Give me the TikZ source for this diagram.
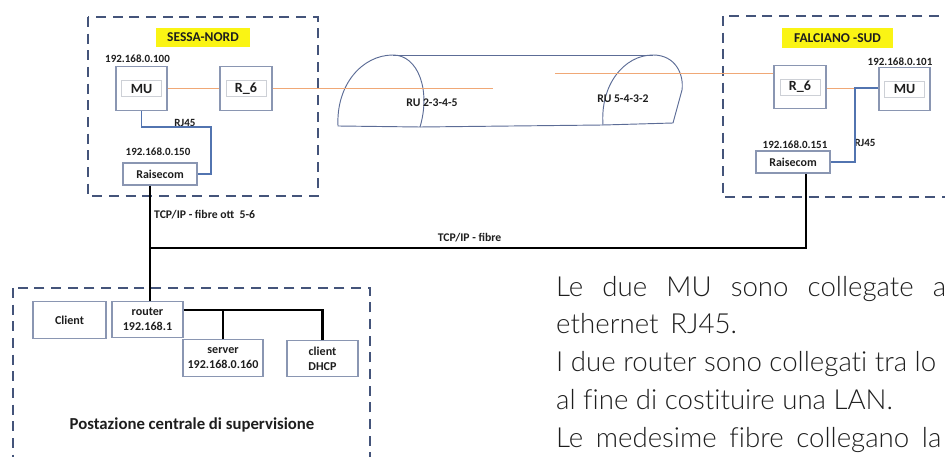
\documentclass[tikz,border=0pt]{standalone}
\usepackage{fontspec}
\setmainfont{Carlito}
\newfontfamily\parafont{Lato Light}[Ligatures={NoCommon}]
\usetikzlibrary{calc}
\definecolor{frameblue}{RGB}{68,84,122}
\definecolor{boxgray}{RGB}{138,150,178}
\definecolor{innergray}{RGB}{205,208,214}
\definecolor{fibreorange}{RGB}{240,168,118}
\definecolor{rjblue}{RGB}{82,116,176}
\definecolor{tubeblue}{RGB}{92,108,150}
\definecolor{tagyellow}{RGB}{250,244,20}
\definecolor{ink}{RGB}{30,30,30}
\tikzset{
  site/.style={draw=frameblue, line width=2pt, dash pattern=on 0.3cm off 0.2cm},
  unit/.style={draw=boxgray, line width=0.9pt, minimum width=1.53cm, minimum height=1.3cm, text=ink, font=\fontsize{12}{14}\selectfont\bfseries},
  inbox/.style={draw=innergray, line width=0.6pt},
  rsbox/.style={draw=boxgray, line width=0.9pt, minimum width=2.22cm, minimum height=0.66cm, inner sep=1pt, text=ink, font=\fontsize{10.2}{12}\selectfont\bfseries},
  pcbox/.style={draw=boxgray, line width=0.9pt, minimum height=1.1cm, align=center, inner sep=1pt, text=ink, font=\fontsize{10.3}{12.8}\selectfont\bfseries},
  tag/.style={fill=tagyellow, minimum height=0.58cm, inner sep=1pt, text=ink, font=\fontsize{11.5}{13}\selectfont\bfseries},
  ip/.style={inner sep=0pt, text=ink, font=\fontsize{9.4}{11}\selectfont\bfseries},
  lbl/.style={inner sep=0pt, text=ink, font=\fontsize{10}{12}\selectfont\bfseries},
  rf/.style={draw=fibreorange, line width=0.8pt},
  rj/.style={draw=rjblue, line width=1.6pt},
  fib/.style={draw=black, line width=2.3pt},
  tube/.style={draw=tubeblue, line width=0.8pt},
  para/.style={anchor=base west, inner sep=0pt, text=ink, font=\parafont\fontsize{23.6}{28}\selectfont}
}
\begin{document}
\begin{tikzpicture}[x=0.03cm, y=-0.03cm]
\useasboundingbox (0,0) rectangle (945,457);
\clip (0,0) rectangle (945,457);
\draw[site] (88,17) rectangle (318,196);
\draw[site] (723,16) rectangle (975,197);
\draw[site] (13,288) rectangle (370,480);
\node[tag, minimum width=2.82cm] (sessa) at (203,37.5) {SESSA-NORD};
\node[tag, minimum width=3.33cm] (falciano) at (837.5,38) {FALCIANO -SUD};
\node[unit] (mu1) at (141.5,88.5) {MU};
\node[unit, minimum width=1.56cm] (r1) at (246,88.5) {R\_6};
\node[rsbox] (rs1) at (160,174) {Raisecom};
\node[unit, minimum width=1.56cm] (r2) at (800,87) {R\_6};
\node[unit] (mu2) at (904.5,89) {MU};
\node[rsbox] (rs2) at (793,162) {Raisecom};
\foreach \n in {mu1,r1,r2,mu2}
  \draw[inbox] (\n.center) ++(-20,-8) rectangle ++(40,16);
\node[ip] (ipmu1) at (137.5,59) {192.168.0.100};
\node[ip] (iprs1) at (158,152) {192.168.0.150};
\node[ip] (iprs2) at (795,145) {192.168.0.151};
\node[ip] (ipmu2) at (900,62) {192.168.0.101};
\node[ip] (rj1) at (185,123) {RJ45};
\node[ip] (rj2) at (865,143) {RJ45};
\draw[tube] (338,126) .. controls (336,85) and (362,55) .. (393,55) .. controls (418,55) and (431,90) .. (420,127) -- cycle;
\draw[tube] (393,55) -- (653,55);
\draw[tube] (420,127) -- (603,125);
\draw[tube] (603,125) .. controls (600,85) and (624,55) .. (653,55) .. controls (676,55) and (684,75) .. (682,90) -- (673,123) -- cycle;
\node[lbl] (ru1) at (432,103) {RU 2-3-4-5};
\node[lbl] (ru2) at (623,99) {RU 5-4-3-2};
\coordinate (rfl) at (493,88.5);
\coordinate (rfr) at (555,73);
\coordinate (rjr) at (855,88);
\draw[rf] (mu1) -- (r1);
\draw[rf] (r1.east) -- (rfl);
\draw[rf] (rfr) -- (rfr -| r2.west);
\draw[rf] (r2.east |- rjr) -- (rjr);
\draw[rj] (mu1.south) |- (211,127) |- (rs1.east);
\draw[rj] (rjr -| mu2.west) -- (rjr) |- (rs2.east);
\node[pcbox, minimum width=2.19cm] (client) at (69.5,320) {Client};
\node[pcbox, minimum width=2.13cm] (router) at (147.5,319.5) {router\\192.168.1};
\node[pcbox, minimum width=2.4cm] (server) at (223,358) {server\\192.168.0.160};
\node[pcbox, minimum width=2.13cm] (dhcp) at (322.5,358.5) {client\\DHCP};
\coordinate (tcp) at (150,248);
\draw[fib] (rs1.south -| tcp) -- (router.north -| tcp);
\draw[fib] (tcp) -| ($(rs2.south)+(13,0)$);
\coordinate (lan) at ($(router.east)+(0,-9.5)$);
\draw[fib] (lan) -| (dhcp.north);
\draw[fib] (server.north) -- (server.north |- lan);
\node[lbl, anchor=west] (tcp1) at (154,215) {TCP/IP - fibre ott\ \ 5-6};
\node[lbl] (tcp2) at (469.5,238) {TCP/IP - fibre};
\node[inner sep=0pt, text=ink, font=\fontsize{14.3}{16}\selectfont\bfseries] (post) at (192,425) {Postazione centrale di supervisione};
\node[para] (p1) at (556,296.5) {\makebox[11.7cm][s]{Le due MU sono collegate a}};
\node[para] (p2) at (556,334) {ethernet\hspace{0.35cm}RJ45.};
\node[para] (p3) at (556,371.5) {I due router sono collegati tra lo};
\node[para] (p4) at (556,409) {al fine di costituire una LAN.};
\node[para] (p5) at (556,447) {\makebox[11.55cm][s]{Le medesime fibre collegano la}};
\end{tikzpicture}
\end{document}
